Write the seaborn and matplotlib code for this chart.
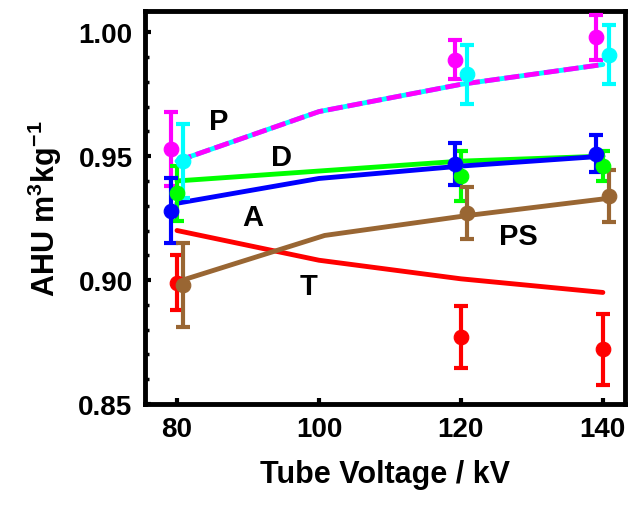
import numpy as np
import matplotlib.pyplot as plt
import seaborn as sns
from matplotlib.ticker import MultipleLocator

# tube voltages (kV)
kv = [80, 100, 120, 140]
kv_meas = [80, 120, 140]

# fitted curves
fit_p = [0.948, 0.968, 0.979, 0.987]
fit_d = [0.940, 0.944, 0.948, 0.950]
fit_a = [0.931, 0.941, 0.946, 0.950]
fit_t = [0.920, 0.908, 0.9005, 0.895]
fit_ps = [0.900, 0.918, 0.926, 0.933]

# measured values and errors
p1 = [0.953, 0.989, 0.998]
p1_err = [0.015, 0.008, 0.009]
p2 = [0.948, 0.983, 0.991]
p2_err = [0.015, 0.012, 0.012]
d_pts = [0.935, 0.942, 0.946]
d_err = [0.011, 0.010, 0.006]
a_pts = [0.928, 0.947, 0.951]
a_err = [0.013, 0.0085, 0.0075]
t_pts = [0.899, 0.877, 0.872]
t_err = [0.011, 0.0125, 0.0145]
ps_pts = [0.898, 0.927, 0.934]
ps_err = [0.017, 0.0105, 0.0105]

labels = ['P', 'D', 'A', 'T', 'PS']
label_x = [85.9, 94.7, 90.7, 98.5, 128.1]
label_y = [0.9640, 0.9497, 0.9253, 0.8978, 0.9177]

MAG, CYAN, GREEN, BLUE, RED, BROWN = '#ff00ff', '#00ffff', '#00ff00', '#0000ff', '#ff0000', '#996633'

sns.set_theme(style='ticks')
plt.rcParams['font.family'] = ['Liberation Sans', 'DejaVu Sans']
plt.rcParams['font.weight'] = 'bold'
plt.rcParams['text.color'] = 'black'
plt.rcParams['axes.labelcolor'] = 'black'
plt.rcParams['xtick.color'] = 'black'
plt.rcParams['ytick.color'] = 'black'
plt.rcParams['mathtext.fontset'] = 'custom'
plt.rcParams['mathtext.rm'] = 'Liberation Sans:bold'
plt.rcParams['mathtext.bf'] = 'Liberation Sans:bold'
plt.rcParams['mathtext.default'] = 'bf'

fig = plt.figure(figsize=(6.28, 5.10), dpi=100)
ax = fig.add_axes([0.231, 0.206, 0.764, 0.770])

lw = 3.5
# fitted lines
sns.lineplot(x=kv, y=fit_t, color=RED, lw=lw, ax=ax, zorder=2)
sns.lineplot(x=np.array(kv) + 0.8, y=fit_ps, color=BROWN, lw=lw, ax=ax, zorder=2)
sns.lineplot(x=kv, y=fit_d, color=GREEN, lw=lw, ax=ax, zorder=2)
sns.lineplot(x=kv, y=fit_a, color=BLUE, lw=lw, ax=ax, zorder=2)
sns.lineplot(x=kv, y=fit_p, color=CYAN, lw=lw, ax=ax, zorder=2)
line = sns.lineplot(x=kv, y=fit_p, color=MAG, lw=lw, ax=ax, zorder=2.1).lines[-1]
line.set_dashes((3.1, 1.0))

# measured points with error bars
series = [
    (p1, p1_err, MAG, -0.9),
    (p2, p2_err, CYAN, 0.9),
    (d_pts, d_err, GREEN, 0.0),
    (a_pts, a_err, BLUE, -0.9),
    (t_pts, t_err, RED, 0.0),
    (ps_pts, ps_err, BROWN, 0.9),
]
for vals, err, col, off in series:
    xs = np.array(kv_meas) + off
    ax.errorbar(xs, vals, yerr=err, fmt='none', ecolor=col, elinewidth=3,
                capsize=5, capthick=3, zorder=3)
    sns.scatterplot(x=xs, y=vals, color=col, s=110, edgecolor=col, ax=ax, zorder=4)

for lab, lx, ly in zip(labels, label_x, label_y):
    ax.text(lx, ly, lab, fontsize=21, fontweight='bold', color='black',
            ha='center', va='center', zorder=5)

ax.set_xlim(75.5, 143.1)
ax.set_ylim(0.85, 1.0085)
ax.set_xticks(kv)
ax.set_yticks([0.85, 0.90, 0.95, 1.00])
ax.set_yticklabels(['0.85', '0.90', '0.95', '1.00'])
ax.yaxis.set_minor_locator(MultipleLocator(0.01))
ax.tick_params(axis='both', which='major', direction='in', length=4, width=3,
               labelsize=20, pad=9)
ax.tick_params(axis='y', which='minor', direction='in', length=3, width=2.5)
for lab in ax.get_xticklabels() + ax.get_yticklabels():
    lab.set_fontweight('bold')
for sp in ax.spines.values():
    sp.set_linewidth(3.5)
    sp.set_color('black')

ax.set_xlabel('Tube Voltage / kV', fontsize=22, fontweight='bold', labelpad=12)
ax.set_ylabel('AHU m$^{3}$kg$^{-1}$', fontsize=22, fontweight='bold', labelpad=10)

fig.savefig('out.png', dpi=100)
